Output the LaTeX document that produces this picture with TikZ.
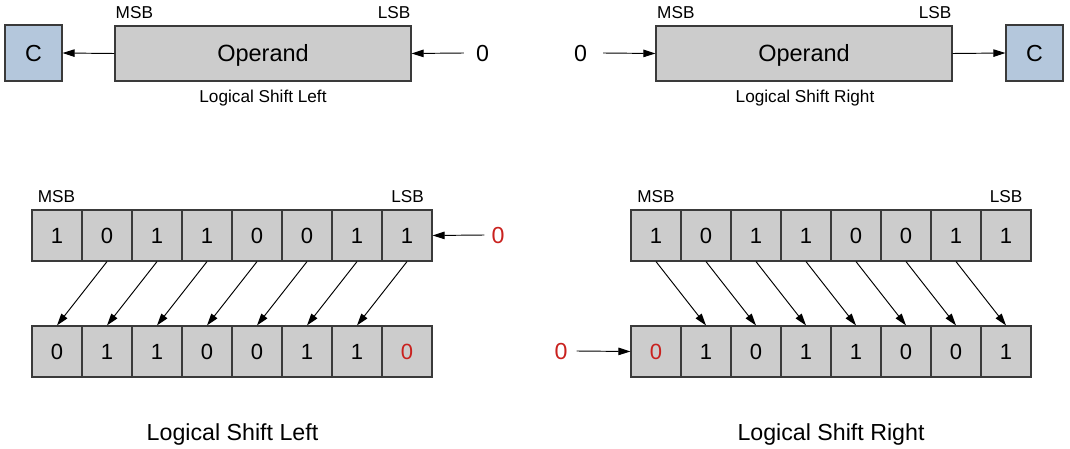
\documentclass[tikz,border=0pt]{standalone}
\usepackage{fontspec}
\setmainfont{Liberation Sans}
\usetikzlibrary{arrows.meta}
\definecolor{cellgray}{HTML}{CCCCCC}
\definecolor{boxline}{HTML}{3A3A3A}
\definecolor{cblue}{HTML}{B4C7DC}
\definecolor{bitred}{HTML}{C9211E}
\tikzset{
  box/.style={draw=boxline, line width=1.2pt, fill=cellgray, inner sep=0pt,
    text height=16.6pt, text depth=0pt, font=\fontsize{23.2}{27}\selectfont},
  cbox/.style={box, fill=cblue, minimum width=57pt, minimum height=56pt},
  opbox/.style={box, minimum width=296pt, minimum height=55pt, font=\fontsize{23.5}{27}\selectfont, text height=16.8pt},
  cell/.style={box, minimum width=50pt, minimum height=51pt, font=\fontsize{22}{26}\selectfont, text height=15.75pt},
  lbl/.style={inner sep=0pt, text depth=0pt, font=\fontsize{17.2}{20}\selectfont},
  bigcaption/.style={inner sep=0pt, text depth=0pt, font=\fontsize{23.2}{27}\selectfont},
  zero/.style={inner sep=0pt, text height=16.6pt, text depth=0pt, font=\fontsize{23.2}{27}\selectfont},
  arr/.style={-{Triangle[length=12pt,width=7.5pt]}, line width=0.95pt, black},
}
\begin{document}
\begin{tikzpicture}[x=1pt,y=-1pt]
\useasboundingbox (0,0) rectangle (1070,449);
% ---------- top left ----------
\node[cbox] (cL) at (33.5,53) {C};
\node[opbox] (opL) at (263,53.5) {Operand};
\node[lbl, anchor=base west] (msbL) at (115.5,19) {MSB};
\node[lbl, anchor=base east] (lsbL) at (410.5,19) {LSB};
\node[lbl, anchor=base] (capL) at (263,103) {Logical Shift Left};
\node[zero] (zL) at (482.5,53) {0};
\draw[arr] (opL.west) -- (cL.east);
\draw[arr] ([xshift=-12pt]zL.west) -- (opL.east);
% ---------- top right ----------
\node[opbox] (opR) at (804,53.5) {Operand};
\node[cbox] (cR) at (1034.5,53) {C};
\node[lbl, anchor=base west] (msbR) at (657,19) {MSB};
\node[lbl, anchor=base east] (lsbR) at (951.5,19) {LSB};
\node[lbl, anchor=base] (capR) at (805,103) {Logical Shift Right};
\node[zero] (zR) at (580.5,53) {0};
\draw[arr] ([xshift=16pt]zR.east) -- (opR.west);
\draw[arr] (opR.east) -- (cR.west);
% ---------- bottom left ----------
\foreach \v [count=\i] in {1,0,1,1,0,0,1,1}
  \node[cell] (a\i) at ({57+50*(\i-1)},235.5) {\v};
\foreach \v [count=\i] in {0,1,1,0,0,1,1}
  \node[cell] (b\i) at ({57+50*(\i-1)},351.5) {\v};
\node[cell, text=bitred] (b8) at (407,351.5) {0};
\node[lbl, anchor=base] (msbA) at (56.5,203) {MSB};
\node[lbl, anchor=base] (lsbA) at (407.5,203) {LSB};
\node[zero, text=bitred] (rL) at (498,235) {0};
\draw[arr] ([xshift=-7pt]rL.west) -- (a8.east);
\foreach \i [evaluate=\i as \j using int(\i+1)] in {1,...,7}
  \draw[arr] (a\j.south) -- (b\i.north);
\node[bigcaption, anchor=base] (bigL) at (232.5,440) {Logical Shift Left};
% ---------- bottom right ----------
\foreach \v [count=\i] in {1,0,1,1,0,0,1,1}
  \node[cell] (c\i) at ({656+50*(\i-1)},235.5) {\v};
\node[cell, text=bitred] (d1) at (656,351.5) {0};
\foreach \v [count=\i from 2] in {1,0,1,1,0,0,1}
  \node[cell] (d\i) at ({656+50*(\i-1)},351.5) {\v};
\node[lbl, anchor=base] (msbC) at (656,203) {MSB};
\node[lbl, anchor=base] (lsbC) at (1006,203) {LSB};
\node[zero, text=bitred] (rR) at (561,351) {0};
\draw[arr] ([xshift=9pt]rR.east) -- (d1.west);
\foreach \i [evaluate=\i as \j using int(\i+1)] in {1,...,7}
  \draw[arr] (c\i.south) -- (d\j.north);
\node[bigcaption, anchor=base] (bigR) at (831,440) {Logical Shift Right};
\end{tikzpicture}
\end{document}
